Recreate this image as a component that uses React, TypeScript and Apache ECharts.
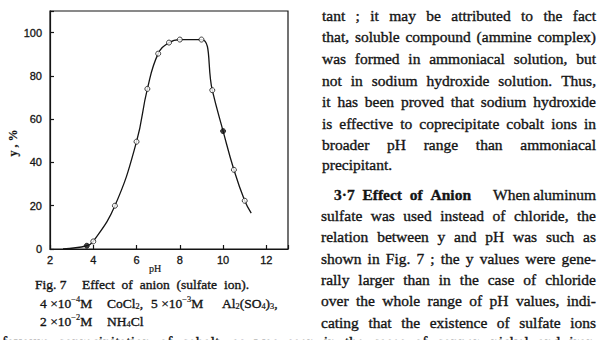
import React, { useEffect, useRef } from "react";
import * as echarts from "echarts";

// Data (pH vs y, %)
const openPh = [4, 5, 6, 6.5, 7, 7.5, 8, 9, 9.5, 10.5, 11];
const openY = [3.5, 20, 49.6, 74, 90.3, 95.4, 96.8, 96.8, 73.4, 36.6, 22.3];
const filledPh = [3.7, 10];
const filledY = [1.5, 54.5];
const curvePh = [2.6, 3.7, 4, 5, 6, 6.5, 7, 7.5, 8, 9, 9.5, 10, 10.5, 11, 11.3];
const curveY = [0, 1.5, 3.5, 20, 49.6, 74, 90.3, 95.4, 96.8, 96.8, 73.4, 54.5, 36.6, 22.3, 16.6];
const xTickLabels = [2, 4, 6, 8, 10, 12];
const yTickLabels = [0, 20, 40, 60, 80, 100];

const SERIF = '"Liberation Serif", "DejaVu Serif", serif';
const SANS = '"Liberation Sans", Arial, sans-serif';
const INK = "#141414";

const para1 = [
  "tant ; it may be attributed to the fact",
  "that, soluble compound (ammine complex)",
  "was formed in ammoniacal solution, but",
  "not in sodium hydroxide solution. Thus,",
  "it has been proved that sodium hydroxide",
  "is effective to coprecipitate cobalt ions in",
  "broader pH range than ammoniacal",
];
const para1Y = [15, 36, 58, 80, 101, 123, 144];
const para2 = [
  "sulfate was used instead of chloride, the",
  "relation between y and pH was such as",
  "shown in Fig. 7 ; the y values were gene-",
  "rally larger than in the case of chloride",
  "over the whole range of pH values, indi-",
  "cating that the existence of sulfate ions",
];
const para2Y = [215, 236, 258, 279, 300, 322];

type Seg = [string, "n" | "sub" | "sup"];

function measure(text: string, size: number, weight: string) {
  const c = document.createElement("canvas").getContext("2d")!;
  c.font = `${weight} ${size}px ${SERIF}`;
  return c.measureText(text).width;
}

function textEl(
  text: string,
  x: number,
  y: number,
  size: number,
  weight = "normal",
  family = SERIF,
  align = "left",
  thick = 0.35
) {
  return {
    type: "text",
    x,
    y,
    silent: true,
    style: {
      text,
      fontSize: size,
      fontWeight: weight,
      fontFamily: family,
      fill: INK,
      stroke: thick > 0 ? INK : undefined,
      lineWidth: thick,
      align,
      textAlign: align,
      verticalAlign: "middle",
      textVerticalAlign: "middle",
    },
  };
}

function justify(line: string, x0: number, x1: number, y: number, size: number, weight = "normal") {
  const words = line.split(" ").filter((w) => w.length);
  const widths = words.map((w) => measure(w, size, weight));
  const total = widths.reduce((a, b) => a + b, 0);
  const gap = words.length > 1 ? (x1 - x0 - total) / (words.length - 1) : 0;
  const els: any[] = [];
  let x = x0;
  words.forEach((w, i) => {
    els.push(textEl(w, x, y, size, weight));
    x += widths[i] + gap;
  });
  return els;
}

function chem(segs: Seg[], x0: number, y: number, size: number) {
  const small = size * 0.62;
  const els: any[] = [];
  let x = x0;
  segs.forEach(([t, k]) => {
    const s = k === "n" ? size : small;
    const dy = k === "sup" ? -4 : k === "sub" ? 3.5 : 0;
    els.push(textEl(t, x, y + dy, s, "normal", SERIF, "left", k === "n" ? 0.35 : 0.2));
    x += measure(t, s, "normal");
  });
  return els;
}

export default function App() {
  const ref = useRef<HTMLDivElement>(null);
  useEffect(() => {
    if (!ref.current) return;
    const chart = echarts.init(ref.current, undefined, { renderer: "svg" });
    const fs = 15.5;
    const graphics: any[] = [];
    para1.forEach((l, i) => graphics.push(...justify(l, 322, 596, para1Y[i], fs)));
    graphics.push(textEl("precipitant.", 322, 164, fs));
    graphics.push(...justify("3·7 Effect of Anion", 334, 471, 194, fs, "bold"));
    graphics.push(...justify("When aluminum", 493, 596, 194, fs));
    para2.forEach((l, i) => graphics.push(...justify(l, 321, 596, para2Y[i], fs)));
    graphics.push(
      ...justify("favours coprecipitation of cobalt, as was seen in the cases of copper, nickel and iron.", 2, 598, 341, fs)
    );
    // caption
    const cs = 13.5;
    graphics.push(textEl("Fig. 7", 35, 284, cs));
    graphics.push(...justify("Effect of anion (sulfate ion).", 82, 249, 284, cs));
    graphics.push(...chem([["4 ×10", "n"], ["−4", "sup"], ["M", "n"]], 40, 303, cs));
    graphics.push(...chem([["CoCl", "n"], ["2", "sub"], [",", "n"]], 107, 303, cs));
    graphics.push(...chem([["5 ×10", "n"], ["−3", "sup"], ["M", "n"]], 151, 303, cs));
    graphics.push(
      ...chem([["Al", "n"], ["2", "sub"], ["(SO", "n"], ["4", "sub"], [")", "n"], ["3", "sub"], [",", "n"]], 222, 303, cs)
    );
    graphics.push(...chem([["2 ×10", "n"], ["−2", "sup"], ["M", "n"]], 40, 321, cs));
    graphics.push(...chem([["NH", "n"], ["4", "sub"], ["Cl", "n"]], 107, 321, cs));
    // axis names
    graphics.push(textEl("pH", 155, 268, 10, "normal", SERIF, "center", 0.2));
    graphics.push({
      ...textEl("y , %", 13, 143, 12, "bold", SERIF, "center", 0.2),
      rotation: Math.PI / 2,
    });

    chart.setOption({
      animation: false,
      backgroundColor: "#ffffff",
      grid: {
        left: 50,
        top: 11,
        width: 238,
        height: 238,
        show: true,
        borderColor: INK,
        borderWidth: 1.2,
        backgroundColor: "transparent",
      },
      xAxis: {
        type: "value",
        min: 2,
        max: 13,
        interval: 2,
        axisLine: { show: true, lineStyle: { color: INK, width: 1.2 } },
        axisTick: { show: true, inside: true, length: 4, lineStyle: { color: INK, width: 1.2 } },
        axisLabel: {
          color: INK,
          fontSize: 11,
          fontFamily: SANS,
          margin: 5,
          textBorderColor: INK,
          textBorderWidth: 0.3,
          formatter: (v: number) => (xTickLabels.includes(v) ? String(v) : ""),
        },
        splitLine: { show: false },
      },
      yAxis: {
        type: "value",
        min: 0,
        max: 110,
        interval: 20,
        axisLine: { show: true, lineStyle: { color: INK, width: 1.2 } },
        axisTick: { show: true, inside: true, length: 4, lineStyle: { color: INK, width: 1.2 } },
        axisLabel: {
          color: INK,
          fontSize: 11,
          fontFamily: SANS,
          margin: 8,
          textBorderColor: INK,
          textBorderWidth: 0.3,
          formatter: (v: number) => (yTickLabels.includes(v) ? String(v) : ""),
        },
        splitLine: { show: false },
      },
      series: [
        {
          type: "line",
          data: curvePh.map((x, i) => [x, curveY[i]]),
          smooth: 0.45,
          showSymbol: false,
          lineStyle: { color: INK, width: 1.3 },
          z: 2,
        },
        {
          type: "scatter",
          data: openPh.map((x, i) => [x, openY[i]]),
          symbol: "circle",
          symbolSize: 5,
          itemStyle: { color: "#ffffff", borderColor: INK, borderWidth: 1 },
          z: 3,
        },
        {
          type: "scatter",
          data: filledPh.map((x, i) => [x, filledY[i]]),
          symbol: "circle",
          symbolSize: 5,
          itemStyle: { color: INK, borderColor: INK, borderWidth: 1 },
          z: 3,
        },
      ],
      graphic: graphics,
    });
    return () => chart.dispose();
  }, []);
  return (
    <div
      ref={ref}
      style={{ position: "fixed", left: 0, top: 0, width: 600, height: 340, background: "#fff" }}
    />
  );
}
